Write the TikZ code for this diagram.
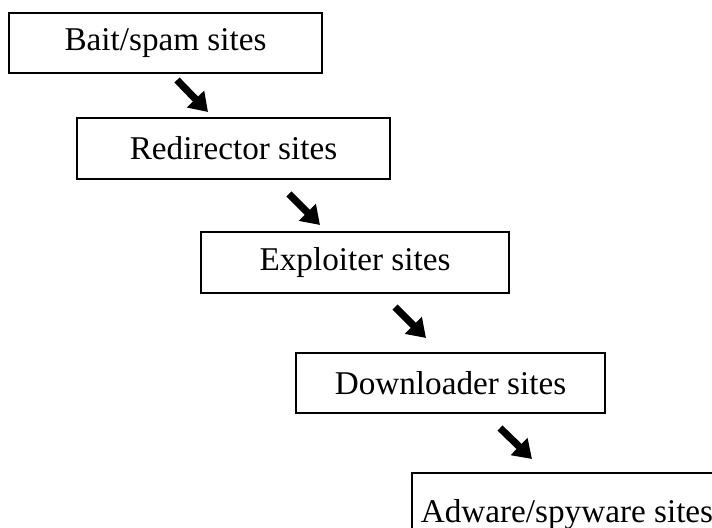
\documentclass[tikz,border=0pt]{standalone}
\usepackage{fontspec}
\setmainfont{Liberation Serif}
\usetikzlibrary{arrows.meta}

\tikzset{
  site/.style={draw=black, line width=1.25pt, rectangle, inner sep=0pt,
    font=\fontsize{16.6}{19}\selectfont},
  flow/.style={line width=3.6pt, -{Triangle[length=9pt,width=11.5pt]}},
}

\begin{document}
\begin{tikzpicture}[x=0.5pt,y=-0.5pt]
  \useasboundingbox (0,0) rectangle (712,528);
  \clip (0,0) rectangle (712,528);

  % chain of sites
  \node[site, minimum width=156.5pt, minimum height=30pt] (bait) at (165.5,43) {Bait/spam sites};
  \node[site, minimum width=156.5pt, minimum height=30.5pt] (redir) at (233.5,148.5) {Redirector sites};
  \node[site, minimum width=154pt, minimum height=30.5pt] (expl) at (355,262.5) {Exploiter sites};
  \node[site, minimum width=154.5pt, minimum height=30pt] (down) at (450.5,383) {Downloader sites};
  \node[site, minimum width=155pt, minimum height=42pt] (adware) at (567,515) {Adware/spyware sites};

  % arrow ends between consecutive boxes
  \coordinate (t1) at (177,80);  \coordinate (h1) at (208,112);
  \coordinate (t2) at (289,194); \coordinate (h2) at (320,225);
  \coordinate (t3) at (395,307); \coordinate (h3) at (426,338);
  \coordinate (t4) at (500,428); \coordinate (h4) at (532,459);

  \draw[flow] (t1) -- (h1);
  \draw[flow] (t2) -- (h2);
  \draw[flow] (t3) -- (h3);
  \draw[flow] (t4) -- (h4);
\end{tikzpicture}
\end{document}
